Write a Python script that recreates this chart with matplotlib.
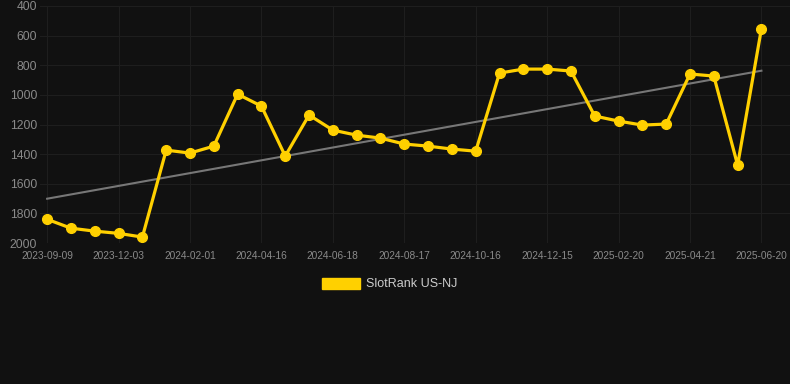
# SlotRank US-NJ rank history
import numpy as np
import matplotlib.pyplot as plt

tick_labels = ['2023-09-09', '2023-12-03', '2024-02-01', '2024-04-16', '2024-06-18',
               '2024-08-17', '2024-10-16', '2024-12-15', '2025-02-20', '2025-04-21', '2025-06-20']
ranks = [1840, 1900, 1920, 1935, 1960, 1373, 1393, 1346, 995, 1076,
         1413, 1136, 1238, 1272, 1292, 1332, 1346, 1366, 1380, 853,
         826, 826, 839, 1143, 1177, 1204, 1197, 859, 873, 1474, 553]
series_name = 'SlotRank US-NJ'

bg = '#111111'
yellow = '#FFD000'

fig = plt.figure(figsize=(7.9, 3.84), dpi=100, facecolor=bg)
ax = fig.add_axes([40 / 790, 1 - 243 / 384, 750 / 790, 237 / 384], facecolor=bg)

xs = np.arange(len(ranks))
# linear trend
k, b = np.polyfit(xs, ranks, 1)
ax.plot(xs, k * xs + b, color='#777777', lw=1.5, zorder=2)
ax.plot(xs, ranks, color=yellow, lw=2.3, marker='o', markersize=7, zorder=3, label=series_name)

ax.set_ylim(2000, 400)
ax.set_yticks(range(400, 2001, 200))
ax.set_xlim(-0.3, 31.2)
ax.set_xticks(xs[::3])
ax.set_xticklabels(tick_labels)

ax.grid(True, color='#1e1e1e', lw=0.8)
for s in ax.spines.values():
    s.set_visible(False)
ax.tick_params(axis='y', colors='#8a8a8a', labelsize=8.7, length=0, pad=2)
ax.tick_params(axis='x', colors='#8a8a8a', labelsize=7.3, length=0, pad=6)
for t in ax.get_yticklabels() + ax.get_xticklabels():
    t.set_family('Liberation Sans')

from matplotlib.patches import Patch
h = Patch(facecolor=yellow, edgecolor=yellow)
leg = fig.legend([h], [series_name], loc='center', bbox_to_anchor=(390 / 790, 1 - 284 / 384),
                 frameon=False, handlelength=3.0, handleheight=1.0, handletextpad=0.5,
                 prop={'family': 'Liberation Sans', 'size': 9})
for t in leg.get_texts():
    t.set_color('#cccccc')

plt.savefig('out.png', dpi=100, facecolor=bg)
